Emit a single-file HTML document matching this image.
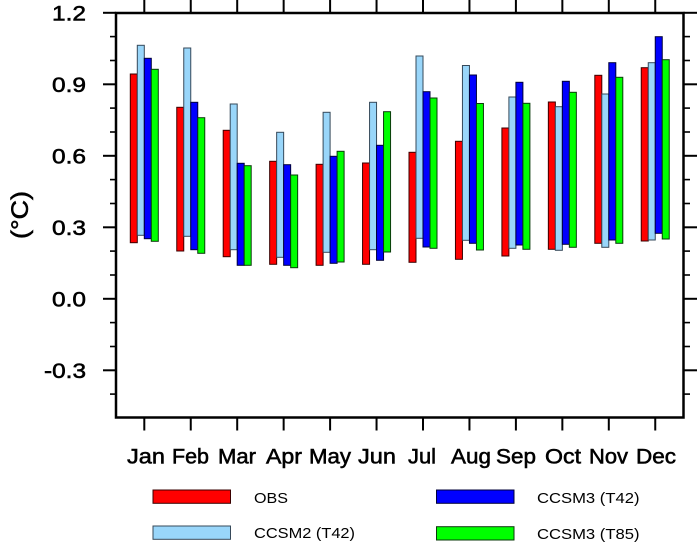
<!DOCTYPE html>
<html><head><meta charset="utf-8"><style>
html,body{margin:0;padding:0;background:#fff;}
svg{display:block;}
text{font-family:"Liberation Sans",Arial,sans-serif;fill:#000;}
.r{fill:#ff0000;stroke:#3a0000;stroke-width:1}
.l{fill:#99d6fa;stroke:#36495a;stroke-width:1}
.b{fill:#0000ff;stroke:#00003a;stroke-width:1}
.g{fill:#00ff00;stroke:#0a3a0a;stroke-width:1}
.lab{stroke:#000;stroke-width:0.55}
</style></head><body>
<svg width="697" height="542" viewBox="0 0 697 542" xmlns="http://www.w3.org/2000/svg">
<g>
<rect class="r" x="130.3" y="74" width="7" height="168.7"/>
<rect class="l" x="137.3" y="45.3" width="7" height="190"/>
<rect class="b" x="144.3" y="58.3" width="7" height="180.4"/>
<rect class="g" x="151.3" y="69.3" width="7" height="172"/>

<rect class="r" x="176.75" y="107.3" width="7" height="143.7"/>
<rect class="l" x="183.75" y="48" width="7" height="188.3"/>
<rect class="b" x="190.75" y="102.3" width="7" height="147.4"/>
<rect class="g" x="197.75" y="117.7" width="7" height="135.6"/>

<rect class="r" x="223.2" y="130.3" width="7" height="126.4"/>
<rect class="l" x="230.2" y="104" width="7" height="145.7"/>
<rect class="b" x="237.2" y="163.3" width="7" height="102"/>
<rect class="g" x="244.2" y="165.7" width="7" height="99.6"/>

<rect class="r" x="269.65" y="161.3" width="7" height="103"/>
<rect class="l" x="276.65" y="132.3" width="7" height="125"/>
<rect class="b" x="283.65" y="164.7" width="7" height="100.6"/>
<rect class="g" x="290.65" y="175" width="7" height="92.7"/>

<rect class="r" x="316.1" y="164.3" width="7" height="101"/>
<rect class="l" x="323.1" y="112.3" width="7" height="140"/>
<rect class="b" x="330.1" y="156.3" width="7" height="107"/>
<rect class="g" x="337.1" y="151.3" width="7" height="110.7"/>

<rect class="r" x="362.55" y="163" width="7" height="101.3"/>
<rect class="l" x="369.55" y="102.3" width="7" height="147.4"/>
<rect class="b" x="376.55" y="145.3" width="7" height="115"/>
<rect class="g" x="383.55" y="111.7" width="7" height="140.3"/>

<rect class="r" x="409" y="152.3" width="7" height="110"/>
<rect class="l" x="416" y="56" width="7" height="182.3"/>
<rect class="b" x="423" y="91.7" width="7" height="155.3"/>
<rect class="g" x="430" y="98" width="7" height="150.3"/>

<rect class="r" x="455.45" y="141.3" width="7" height="118"/>
<rect class="l" x="462.45" y="65.5" width="7" height="174.8"/>
<rect class="b" x="469.45" y="75" width="7" height="168.3"/>
<rect class="g" x="476.45" y="103.5" width="7" height="146.5"/>

<rect class="r" x="501.9" y="128" width="7" height="128"/>
<rect class="l" x="508.9" y="97" width="7" height="151.3"/>
<rect class="b" x="515.9" y="82.3" width="7" height="162.7"/>
<rect class="g" x="522.9" y="103.3" width="7" height="146"/>

<rect class="r" x="548.35" y="102" width="7" height="147.3"/>
<rect class="l" x="555.35" y="106.7" width="7" height="143.6"/>
<rect class="b" x="562.35" y="81.3" width="7" height="163"/>
<rect class="g" x="569.35" y="92.3" width="7" height="155"/>

<rect class="r" x="594.8" y="75.3" width="7" height="168"/>
<rect class="l" x="601.8" y="94" width="7" height="153.3"/>
<rect class="b" x="608.8" y="62.7" width="7" height="177.3"/>
<rect class="g" x="615.8" y="77.3" width="7" height="166"/>

<rect class="r" x="641.25" y="67.7" width="7" height="173.3"/>
<rect class="l" x="648.25" y="62.7" width="7" height="177.3"/>
<rect class="b" x="655.25" y="36.7" width="7" height="196.6"/>
<rect class="g" x="662.25" y="59.7" width="7" height="179.3"/>
</g>
<!-- frame -->
<rect x="116" y="13" width="567.5" height="404.5" fill="none" stroke="#000" stroke-width="2.5"/>
<g stroke="#000" stroke-width="2">
<line x1="103" y1="12.8" x2="116" y2="12.8"/><line x1="683.5" y1="12.8" x2="697" y2="12.8"/>
<line x1="103" y1="84.3" x2="116" y2="84.3"/><line x1="683.5" y1="84.3" x2="697" y2="84.3"/>
<line x1="103" y1="155.8" x2="116" y2="155.8"/><line x1="683.5" y1="155.8" x2="697" y2="155.8"/>
<line x1="103" y1="227.3" x2="116" y2="227.3"/><line x1="683.5" y1="227.3" x2="697" y2="227.3"/>
<line x1="103" y1="298.8" x2="116" y2="298.8"/><line x1="683.5" y1="298.8" x2="697" y2="298.8"/>
<line x1="103" y1="370.3" x2="116" y2="370.3"/><line x1="683.5" y1="370.3" x2="697" y2="370.3"/>
</g>
<g stroke="#000" stroke-width="1.6">
<line x1="110" y1="36.6" x2="116" y2="36.6"/><line x1="683.5" y1="36.6" x2="690" y2="36.6"/>
<line x1="110" y1="60.5" x2="116" y2="60.5"/><line x1="683.5" y1="60.5" x2="690" y2="60.5"/>
<line x1="110" y1="108.1" x2="116" y2="108.1"/><line x1="683.5" y1="108.1" x2="690" y2="108.1"/>
<line x1="110" y1="132" x2="116" y2="132"/><line x1="683.5" y1="132" x2="690" y2="132"/>
<line x1="110" y1="179.6" x2="116" y2="179.6"/><line x1="683.5" y1="179.6" x2="690" y2="179.6"/>
<line x1="110" y1="203.5" x2="116" y2="203.5"/><line x1="683.5" y1="203.5" x2="690" y2="203.5"/>
<line x1="110" y1="251.1" x2="116" y2="251.1"/><line x1="683.5" y1="251.1" x2="690" y2="251.1"/>
<line x1="110" y1="275" x2="116" y2="275"/><line x1="683.5" y1="275" x2="690" y2="275"/>
<line x1="110" y1="322.6" x2="116" y2="322.6"/><line x1="683.5" y1="322.6" x2="690" y2="322.6"/>
<line x1="110" y1="346.5" x2="116" y2="346.5"/><line x1="683.5" y1="346.5" x2="690" y2="346.5"/>
<line x1="110" y1="394.1" x2="116" y2="394.1"/><line x1="683.5" y1="394.1" x2="690" y2="394.1"/>
</g>
<g stroke="#000" stroke-width="2">
<line x1="144.3" y1="0" x2="144.3" y2="13"/><line x1="144.3" y1="417.5" x2="144.3" y2="430.5"/>
<line x1="190.75" y1="0" x2="190.75" y2="13"/><line x1="190.75" y1="417.5" x2="190.75" y2="430.5"/>
<line x1="237.2" y1="0" x2="237.2" y2="13"/><line x1="237.2" y1="417.5" x2="237.2" y2="430.5"/>
<line x1="283.65" y1="0" x2="283.65" y2="13"/><line x1="283.65" y1="417.5" x2="283.65" y2="430.5"/>
<line x1="330.1" y1="0" x2="330.1" y2="13"/><line x1="330.1" y1="417.5" x2="330.1" y2="430.5"/>
<line x1="376.55" y1="0" x2="376.55" y2="13"/><line x1="376.55" y1="417.5" x2="376.55" y2="430.5"/>
<line x1="423" y1="0" x2="423" y2="13"/><line x1="423" y1="417.5" x2="423" y2="430.5"/>
<line x1="469.45" y1="0" x2="469.45" y2="13"/><line x1="469.45" y1="417.5" x2="469.45" y2="430.5"/>
<line x1="515.9" y1="0" x2="515.9" y2="13"/><line x1="515.9" y1="417.5" x2="515.9" y2="430.5"/>
<line x1="562.35" y1="0" x2="562.35" y2="13"/><line x1="562.35" y1="417.5" x2="562.35" y2="430.5"/>
<line x1="608.8" y1="0" x2="608.8" y2="13"/><line x1="608.8" y1="417.5" x2="608.8" y2="430.5"/>
<line x1="655.25" y1="0" x2="655.25" y2="13"/><line x1="655.25" y1="417.5" x2="655.25" y2="430.5"/>
</g>
<!-- y labels -->
<g font-size="21" text-anchor="end" class="lab">
<text x="86" y="20.5" textLength="34" lengthAdjust="spacingAndGlyphs">1.2</text>
<text x="86" y="92" textLength="34" lengthAdjust="spacingAndGlyphs">0.9</text>
<text x="86" y="163.5" textLength="34" lengthAdjust="spacingAndGlyphs">0.6</text>
<text x="86" y="235" textLength="34" lengthAdjust="spacingAndGlyphs">0.3</text>
<text x="86" y="306.5" textLength="34" lengthAdjust="spacingAndGlyphs">0.0</text>
<text x="86" y="378" textLength="42" lengthAdjust="spacingAndGlyphs">-0.3</text>
</g>
<text class="lab" transform="translate(28,215) rotate(-90)" font-size="24" text-anchor="middle" textLength="48" lengthAdjust="spacingAndGlyphs">(°C)</text>
<!-- x labels -->
<g font-size="21" text-anchor="middle" class="lab">
<text x="146" y="463.5" textLength="38" lengthAdjust="spacingAndGlyphs">Jan</text>
<text x="190.5" y="463.5" textLength="37" lengthAdjust="spacingAndGlyphs">Feb</text>
<text x="237" y="463.5" textLength="38" lengthAdjust="spacingAndGlyphs">Mar</text>
<text x="284" y="463.5" textLength="36" lengthAdjust="spacingAndGlyphs">Apr</text>
<text x="330" y="463.5" textLength="42" lengthAdjust="spacingAndGlyphs">May</text>
<text x="377" y="463.5" textLength="38" lengthAdjust="spacingAndGlyphs">Jun</text>
<text x="422" y="463.5" textLength="28" lengthAdjust="spacingAndGlyphs">Jul</text>
<text x="471" y="463.5" textLength="40" lengthAdjust="spacingAndGlyphs">Aug</text>
<text x="516" y="463.5" textLength="40" lengthAdjust="spacingAndGlyphs">Sep</text>
<text x="563" y="463.5" textLength="36" lengthAdjust="spacingAndGlyphs">Oct</text>
<text x="608.5" y="463.5" textLength="39" lengthAdjust="spacingAndGlyphs">Nov</text>
<text x="656" y="463.5" textLength="40" lengthAdjust="spacingAndGlyphs">Dec</text>
</g>
<!-- legend -->
<rect class="r" x="153" y="490" width="77.5" height="13.3"/>
<rect class="l" x="153" y="526" width="77.5" height="13.3"/>
<rect class="b" x="436.5" y="490" width="77.5" height="13.3"/>
<rect class="g" x="436.5" y="526.7" width="77.5" height="13.3"/>
<g font-size="14.5">
<text x="254" y="502.8" textLength="34" lengthAdjust="spacingAndGlyphs">OBS</text>
<text x="254" y="538" textLength="101" lengthAdjust="spacingAndGlyphs">CCSM2 (T42)</text>
<text x="537" y="502.8" textLength="102.5" lengthAdjust="spacingAndGlyphs">CCSM3 (T42)</text>
<text x="537" y="539" textLength="102.5" lengthAdjust="spacingAndGlyphs">CCSM3 (T85)</text>
</g>
</svg>
</body></html>
